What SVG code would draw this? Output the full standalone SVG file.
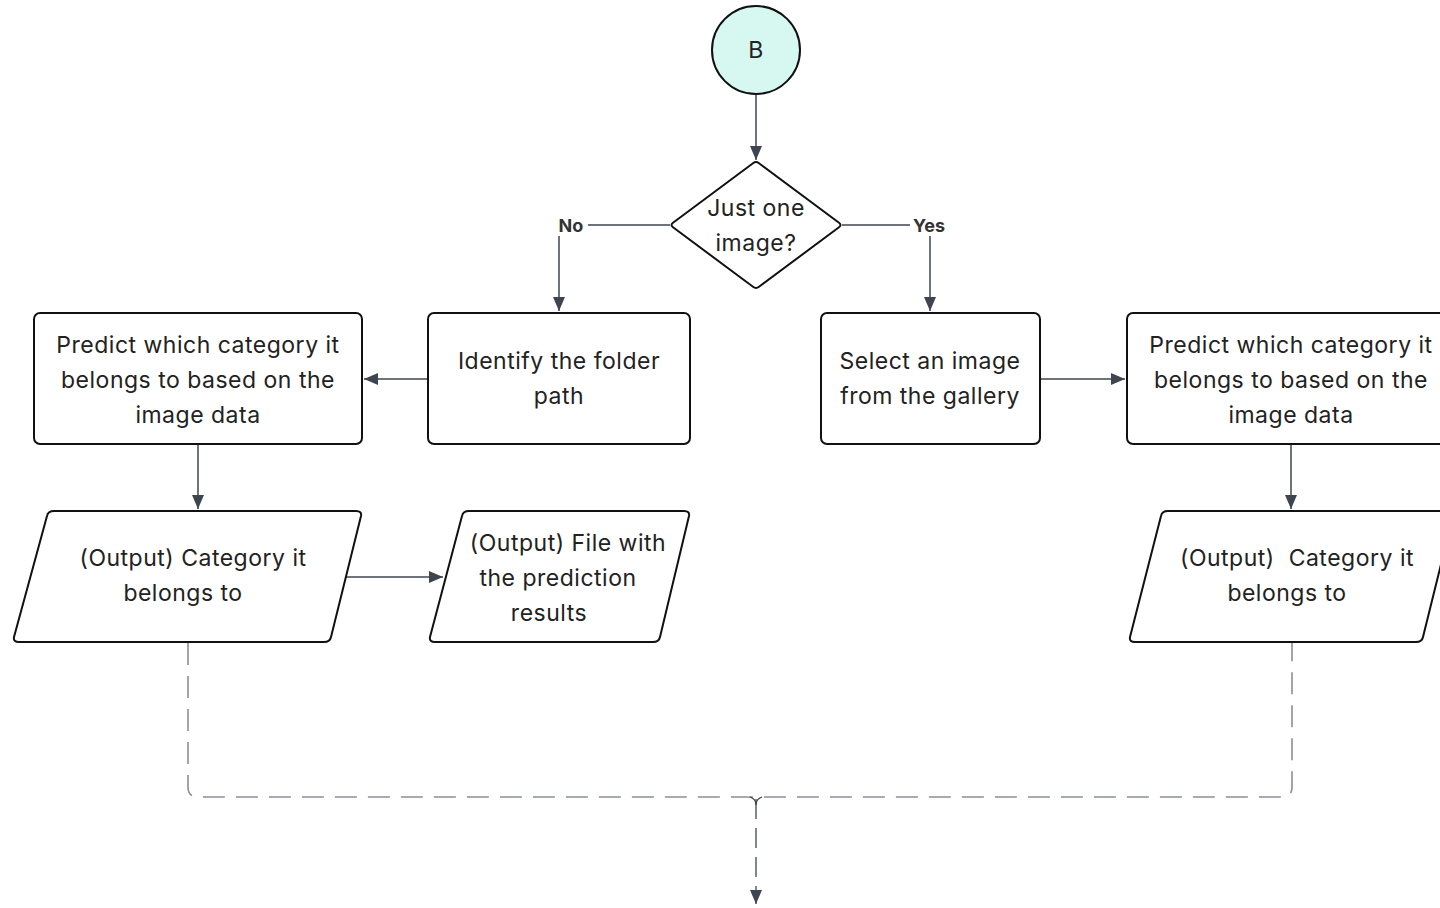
<svg xmlns="http://www.w3.org/2000/svg" width="1440" height="908" viewBox="0 0 1440 908">
<style>
.n{fill:#ffffff;stroke:#111111;stroke-width:2;stroke-linejoin:round}
.t{font-family:Inter,"Noto Sans","Liberation Sans",sans-serif;font-size:23px;letter-spacing:0.5px;fill:#222222;text-anchor:middle;dominant-baseline:central}
.lb{font-family:Inter,"Noto Sans","Liberation Sans",sans-serif;font-size:18px;font-weight:700;fill:#333333;text-anchor:middle;dominant-baseline:central}
.c{fill:none;stroke:#3f4550;stroke-width:1.5}
.d{fill:none;stroke:#8b9096;stroke-width:1.6;stroke-dasharray:22 11}
.dc{fill:none;stroke:#3f4550;stroke-width:1.3;stroke-dasharray:20 9}
</style>
<defs>
<marker id="ah" viewBox="0 0 14 12" refX="14" refY="6" markerWidth="14" markerHeight="12" markerUnits="userSpaceOnUse" orient="auto">
<path d="M0,0 L14,6 L0,12 Z" fill="#3f4550"/>
</marker>
</defs>
<rect width="1440" height="908" fill="#ffffff"/>
<g id="connectors">
<path class="c" d="M756,94 V160" marker-end="url(#ah)"/>
<path class="c" d="M670,225 H559 V311" marker-end="url(#ah)"/>
<path class="c" d="M842,225 H930 V311" marker-end="url(#ah)"/>
<path class="c" d="M428,379 H364" marker-end="url(#ah)"/>
<path class="c" d="M1040,379 H1125" marker-end="url(#ah)"/>
<path class="c" d="M198,444 V509" marker-end="url(#ah)"/>
<path class="c" d="M1291,444 V509" marker-end="url(#ah)"/>
<path class="c" d="M345,577 H443" marker-end="url(#ah)"/>
<path class="d" d="M188,643 V787 Q188,797 198,797 H1282 Q1292,797 1292,787 V643"/>
<path class="dc" d="M756,799 V904" marker-end="url(#ah)"/>
<path fill="none" stroke="#3f4550" stroke-width="1.3" d="M750,797 Q756,799 756,805 Q756,799 762,797"/>
<rect x="556" y="214" width="32" height="22" fill="#ffffff"/>
<text class="lb" x="571" y="225">No</text>
<rect x="910" y="214" width="40" height="22" fill="#ffffff"/>
<text class="lb" x="929" y="225">Yes</text>
</g>
<g id="node-b">
<circle cx="756" cy="50" r="44" fill="#d7f8f1" stroke="#111111" stroke-width="2"/>
<text class="t" x="756" y="50">B</text>
</g>
<g id="node-decision">
<path class="n" d="M673,222.8 L753,163.2 Q756,161 759,163.2 L839,222.8 Q842,225 839,227.2 L759,286.8 Q756,289 753,286.8 L673,227.2 Q670,225 673,222.8 Z"/>
<text class="t" x="756" y="208">Just one</text>
<text class="t" x="756" y="243">image?</text>
</g>
<g id="node-predict-left">
<rect class="n" x="34" y="313" width="328" height="131" rx="6"/>
<text class="t" x="198" y="345">Predict which category it</text>
<text class="t" x="198" y="380">belongs to based on the</text>
<text class="t" x="198" y="415">image data</text>
</g>
<g id="node-identify">
<rect class="n" x="428" y="313" width="262" height="131" rx="6"/>
<text class="t" x="559" y="361">Identify the folder</text>
<text class="t" x="559" y="396">path</text>
</g>
<g id="node-select">
<rect class="n" x="821" y="313" width="219" height="131" rx="6"/>
<text class="t" x="930" y="361">Select an image</text>
<text class="t" x="930" y="396">from the gallery</text>
</g>
<g id="node-predict-right">
<rect class="n" x="1127" y="313" width="328" height="131" rx="6"/>
<text class="t" x="1291" y="345">Predict which category it</text>
<text class="t" x="1291" y="380">belongs to based on the</text>
<text class="t" x="1291" y="415">image data</text>
</g>
<g id="node-output-left">
<path class="n" d="M54,511 H356 Q362,511 361,516 L331,637 Q330,642 324,642 H19 Q13,642 14,637 L47,516 Q48,511 54,511 Z"/>
<text class="t" x="193" y="558">(Output) Category it</text>
<text class="t" x="183" y="593">belongs to</text>
</g>
<g id="node-output-file">
<path class="n" d="M469,511 H684 Q690,511 689,516 L660,637 Q659,642 653,642 H435 Q429,642 430,637 L462,516 Q463,511 469,511 Z"/>
<text class="t" x="568" y="543">(Output) File with</text>
<text class="t" x="558" y="578">the prediction</text>
<text class="t" x="549" y="613">results</text>
</g>
<g id="node-output-right">
<path class="n" d="M1168,511 H1448 Q1454,511 1453,516 L1423,637 Q1422,642 1416,642 H1135 Q1129,642 1130,637 L1161,516 Q1162,511 1168,511 Z"/>
<text class="t" x="1297" y="558" xml:space="preserve">(Output)  Category it</text>
<text class="t" x="1287" y="593">belongs to</text>
</g>
</svg>
